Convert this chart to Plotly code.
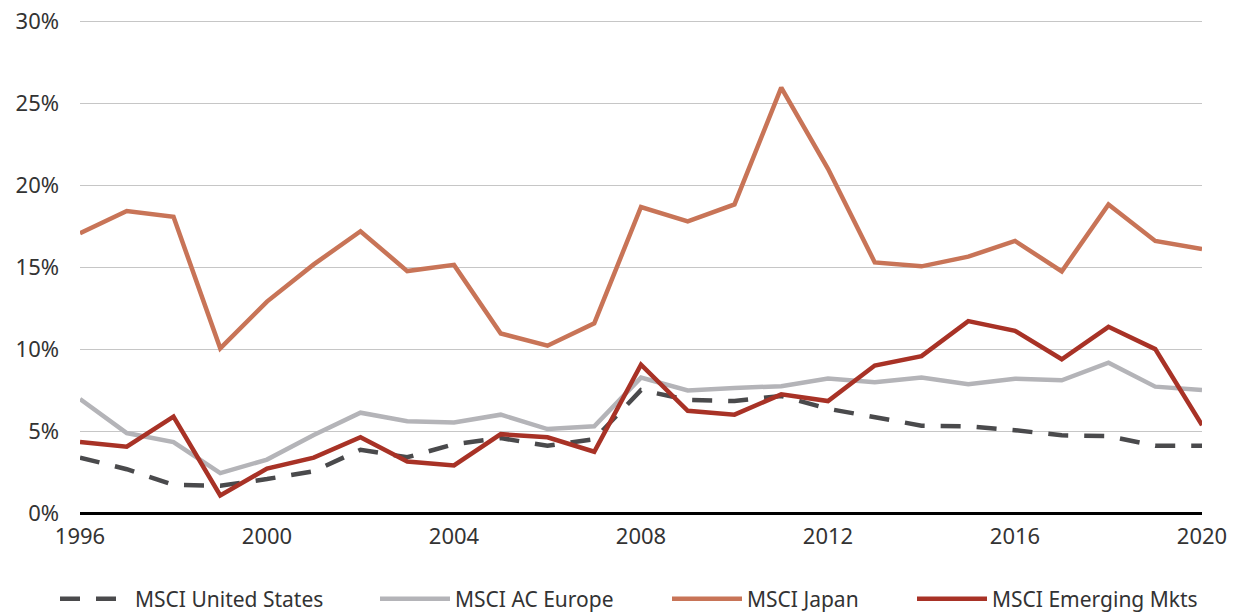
import plotly.graph_objects as go

years = list(range(1996, 2021))

us = [3.38, 2.67, 1.71, 1.67, 2.07, 2.55, 3.86, 3.4, 4.2, 4.57, 4.1, 4.5, 7.5,
      6.9, 6.83, 7.14, 6.36, 5.88, 5.33, 5.29, 5.05, 4.74, 4.69, 4.1, 4.1]
europe = [6.95, 4.88, 4.33, 2.43, 3.26, 4.76, 6.12, 5.6, 5.52, 6.0, 5.12, 5.29, 8.26,
          7.48, 7.62, 7.74, 8.21, 7.98, 8.26, 7.86, 8.19, 8.1, 9.17, 7.71, 7.5]
japan = [17.07, 18.43, 18.07, 10.05, 12.9, 15.17, 17.19, 14.76, 15.14, 10.95, 10.21, 11.57, 18.67,
         17.79, 18.83, 25.95, 21.0, 15.29, 15.05, 15.64, 16.6, 14.74, 18.83, 16.6, 16.1]
em = [4.33, 4.05, 5.88, 1.07, 2.71, 3.38, 4.62, 3.14, 2.9, 4.81, 4.62, 3.74, 9.05,
      6.24, 6.0, 7.24, 6.83, 9.0, 9.57, 11.71, 11.12, 9.38, 11.36, 10.0, 5.36]

names = ["MSCI United States", "MSCI AC Europe", "MSCI Japan", "MSCI Emerging Mkts"]
xticks = [1996, 2000, 2004, 2008, 2012, 2016, 2020]
yticks = [0, 5, 10, 15, 20, 25, 30]

series = [us, europe, japan, em]
colors = ["#4a4a4c", "#b4b4b8", "#c87457", "#a83226"]
dashes = ["20px,16px", "solid", "solid", "solid"]
legend_ids = ["legend", "legend2", "legend3", "legend4"]
legend_x = [47, 367, 659, 904]

# page has an 8px body margin; figure is sized so it fills the 1237x612 window
W, H = 1229, 604

fig = go.Figure()
for vals, nm, col, ds, lid in zip(series, names, colors, dashes, legend_ids):
    fig.add_trace(go.Scatter(x=years, y=[v / 100 for v in vals], name=nm, mode="lines",
                             line=dict(color=col, width=4.5, dash=ds), legend=lid))

legend_common = dict(orientation="h", xref="container", yref="container",
                     xanchor="left", yanchor="middle", y=(H - 591) / H,
                     font=dict(size=21, color="#333333"), itemwidth=70,
                     bgcolor="rgba(0,0,0,0)")

layout_legends = {}
for lid, lx in zip(legend_ids, legend_x):
    layout_legends[lid] = dict(legend_common, x=lx / W)

fig.update_layout(
    width=W, height=H,
    margin=dict(l=72, r=35, t=12, b=99, autoexpand=False),
    paper_bgcolor="white", plot_bgcolor="white",
    font=dict(family="Noto Sans, Open Sans, sans-serif", size=20, color="#333333"),
    showlegend=True,
    xaxis=dict(range=[1996, 2020], tickvals=xticks, ticktext=[str(t) for t in xticks],
               showgrid=False, zeroline=False, showline=False, ticks="",
               tickfont=dict(size=22), ticklabelstandoff=8, automargin=False,
               ticklabeloverflow="allow"),
    yaxis=dict(range=[0, 0.3008], tickvals=[t / 100 for t in yticks],
               ticktext=[f"{t}%" for t in yticks], showgrid=True,
               gridcolor="#c6c6c6", gridwidth=1, zeroline=True, zerolinecolor="#000000",
               zerolinewidth=3, ticks="", ticklabelstandoff=20, tickfont=dict(size=22),
               automargin=False, ticklabeloverflow="allow"),
    **layout_legends,
)

fig.write_html("out.html")
